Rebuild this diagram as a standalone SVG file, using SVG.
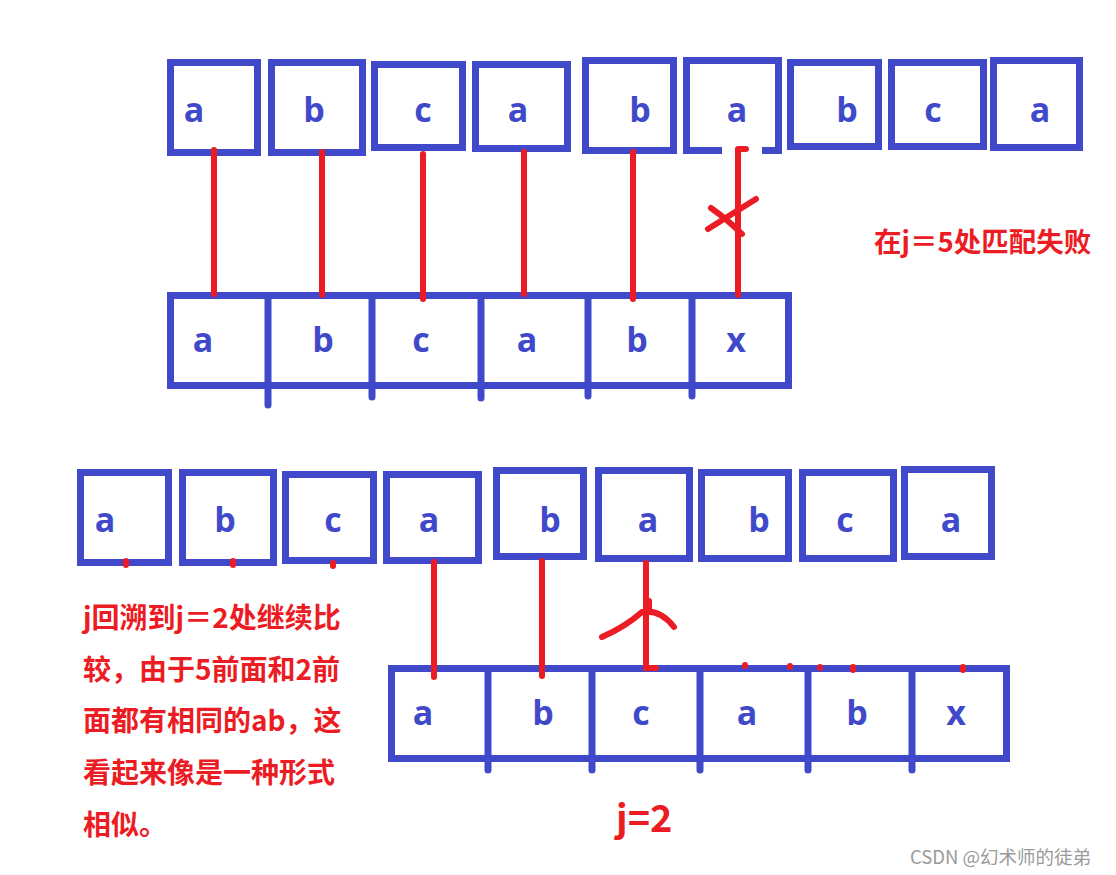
<svg xmlns="http://www.w3.org/2000/svg" width="1116" height="875" viewBox="0 0 1116 875">
<style>
.box{fill:#fff;stroke:#4049c9;stroke-width:7}
.div{stroke:#4049c9;stroke-width:7;stroke-linecap:round;fill:none}
.lt{font-family:"Open Sans","Noto Sans",sans-serif;font-weight:bold;font-size:34px;fill:#4049c9;text-anchor:middle}
.rl{stroke:#ec1c24;stroke-width:6;stroke-linecap:round;fill:none}
.rt{font-family:"Noto Sans CJK SC","Noto Sans",sans-serif;font-weight:bold;fill:#ec1c24}
.wm{font-family:"Noto Sans CJK SC","Noto Sans",sans-serif;font-size:18.5px;fill:#9a9a9a}
</style>
<rect width="1116" height="875" fill="#fff"/>

<!-- Section 1 : main string -->
<g id="s1-main">
<g id="s1-m1"><rect class="box" x="170.5" y="62.5" width="87" height="90"/><text class="lt" x="194" y="122">a</text></g>
<g id="s1-m2"><rect class="box" x="271.5" y="62.5" width="91" height="90"/><text class="lt" x="314" y="122">b</text></g>
<g id="s1-m3"><rect class="box" x="374.5" y="64.5" width="88" height="83"/><text class="lt" x="423" y="122">c</text></g>
<g id="s1-m4"><rect class="box" x="475.5" y="64.5" width="92" height="84"/><text class="lt" x="518" y="122">a</text></g>
<g id="s1-m5"><rect class="box" x="585.5" y="60.5" width="88" height="90"/><text class="lt" x="640" y="122">b</text></g>
<g id="s1-m6"><rect class="box" x="686.5" y="60.5" width="92" height="90"/><rect x="722" y="146" width="40" height="9" fill="#fff"/><text class="lt" x="737" y="122">a</text></g>
<g id="s1-m7"><rect class="box" x="790.5" y="62.5" width="88" height="84"/><text class="lt" x="847" y="122">b</text></g>
<g id="s1-m8"><rect class="box" x="891.5" y="62.5" width="92" height="84"/><text class="lt" x="933" y="122">c</text></g>
<g id="s1-m9"><rect class="box" x="993.5" y="60.5" width="86" height="87"/><text class="lt" x="1040" y="122">a</text></g>
</g>

<!-- Section 1 : pattern -->
<g id="s1-pattern">
<rect class="box" x="170.5" y="295.5" width="618" height="90"/>
<path class="div" d="M268 296V405M372 296V397M481 296V398M588 296V396M692 296V396"/>
<g id="s1-p1"><text class="lt" x="203" y="352">a</text></g>
<g id="s1-p2"><text class="lt" x="323" y="352">b</text></g>
<g id="s1-p3"><text class="lt" x="421" y="352">c</text></g>
<g id="s1-p4"><text class="lt" x="527" y="352">a</text></g>
<g id="s1-p5"><text class="lt" x="637" y="352">b</text></g>
<g id="s1-p6"><text class="lt" x="736" y="352">x</text></g>
</g>

<!-- Section 2 : main string -->
<g id="s2-main">
<g id="s2-m1"><rect class="box" x="80.5" y="472.5" width="88" height="90"/><text class="lt" x="105" y="532">a</text></g>
<g id="s2-m2"><rect class="box" x="182.5" y="472.5" width="91" height="90"/><text class="lt" x="225" y="532">b</text></g>
<g id="s2-m3"><rect class="box" x="285.5" y="474.5" width="88" height="86"/><text class="lt" x="333" y="532">c</text></g>
<g id="s2-m4"><rect class="box" x="386.5" y="474.5" width="92" height="86"/><text class="lt" x="429" y="532">a</text></g>
<g id="s2-m5"><rect class="box" x="496.5" y="470.5" width="87" height="86"/><text class="lt" x="550" y="532">b</text></g>
<g id="s2-m6"><rect class="box" x="598.5" y="470.5" width="91" height="88"/><text class="lt" x="648" y="532">a</text></g>
<g id="s2-m7"><rect class="box" x="701.5" y="472.5" width="87" height="86"/><text class="lt" x="759" y="532">b</text></g>
<g id="s2-m8"><rect class="box" x="802.5" y="472.5" width="91" height="86"/><text class="lt" x="845" y="532">c</text></g>
<g id="s2-m9"><rect class="box" x="904.5" y="469.5" width="87" height="87"/><text class="lt" x="951" y="532">a</text></g>
</g>

<!-- Section 2 : pattern -->
<g id="s2-pattern">
<rect class="box" x="391.5" y="668.5" width="615" height="90"/>
<path class="div" d="M488 669V770M592 669V770M700 669V770M808 669V770M912 669V770"/>
<g id="s2-p1"><text class="lt" x="423" y="725">a</text></g>
<g id="s2-p2"><text class="lt" x="543" y="725">b</text></g>
<g id="s2-p3"><text class="lt" x="641" y="725">c</text></g>
<g id="s2-p4"><text class="lt" x="747" y="725">a</text></g>
<g id="s2-p5"><text class="lt" x="857" y="725">b</text></g>
<g id="s2-p6"><text class="lt" x="956" y="725">x</text></g>
</g>

<!-- Connectors -->
<g id="connectors">
<path class="rl" d="M214 150V294M322 152V295M423 154V299M524 152V294M633 152V299"/>
<path class="rl" d="M738 149V295M738 149H746"/>
<path class="rl" d="M708 229Q735 212 756 199M711 208Q728 220 742 234"/>
<path class="rl" d="M126 561V565M233 561V565M333 563V566"/>
<path class="rl" d="M434 562V677M542 561V676M646 563V668H656"/>
<path class="rl" d="M602 637Q625 627 642 612Q660 609 674 627M649 601V612"/>
<path class="rl" d="M745 665V666M790 666V667M820 667V668M853 667V670M963 667V670"/>
</g>

<!-- Labels -->
<g id="labels">
<text class="rt" x="874" y="252" font-size="27.5">在j＝5处匹配失败</text>
<g class="rt" font-size="28">
<text x="83" y="628">j回溯到j＝2处继续比</text>
<text x="83" y="680">较，由于5前面和2前</text>
<text x="83" y="731">面都有相同的ab，这</text>
<text x="83" y="783">看起来像是一种形式</text>
<text x="83" y="835">相似。</text>
</g>
<text class="rt" x="616" y="832" font-size="38">j=2</text>
<text class="wm" x="910" y="864">CSDN @幻术师的徒弟</text>
</g>
</svg>
